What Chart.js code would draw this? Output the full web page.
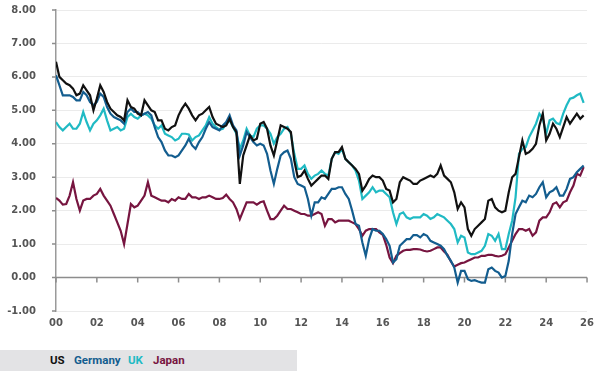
<!DOCTYPE html>
<html>
<head>
<meta charset="utf-8">
<script src="https://cdn.jsdelivr.net/npm/chart.js@4.4.1/dist/chart.umd.min.js"></script>
<style>
  body { margin: 0; background: #fff; }
  #wrap { position: relative; width: 600px; height: 375px; }
  #legend { position: absolute; left: 0; top: 350px; width: 297px; height: 21px; background: #e3e3e5;
            font: bold 11.5px Roboto, sans-serif; line-height: 21px; }
  #legend span { position: absolute; top: 0; }
</style>
</head>
<body>
<div id="wrap">
  <canvas id="chart" width="600" height="375"></canvas>
  <div id="legend"></div>
</div>
<script>
// 30y yields, one value every 2 months from Jan 2000
const startYear = 2000
const perYear = 6

const seriesNames = ['US', 'Germany', 'UK', 'Japan']
const seriesColors = ['#111111', '#135d8f', '#20bac4', '#771540']

const us = [
  6.45, 6.0, 5.9, 5.8, 5.75, 5.65,
  5.45, 5.5, 5.75, 5.6, 5.45, 5.0,
  5.35, 5.75, 5.55, 5.25, 5.05, 4.95,
  4.85, 4.8, 4.7, 5.3, 5.1, 5.05,
  4.9, 4.85, 5.3, 5.15, 5.0, 4.95,
  4.7, 4.7, 4.45, 4.4, 4.5, 4.55,
  4.85, 5.05, 5.2, 5.05, 4.85, 4.7,
  4.85, 4.9, 5.0, 5.1, 4.8, 4.6,
  4.55, 4.5, 4.55, 4.75, 4.5, 4.35,
  2.8, 3.65, 3.95, 4.25, 4.1, 4.15,
  4.6, 4.65, 4.45, 3.95, 3.65, 4.1,
  4.55, 4.5, 4.45, 4.35, 3.5, 3.0,
  3.05, 3.2, 2.95, 2.75, 2.85, 2.95,
  3.05, 3.05, 2.95, 3.55, 3.75, 3.75,
  3.9, 3.55, 3.45, 3.35, 3.25, 3.1,
  2.6, 2.75, 2.95, 3.05, 3.0, 3.0,
  2.9, 2.65, 2.6, 2.25, 2.35, 2.85,
  3.0, 2.95, 2.9, 2.8, 2.8, 2.9,
  2.95, 3.0, 3.05, 3.0, 3.1, 3.35,
  3.05, 2.95, 2.85, 2.55, 2.05, 2.25,
  2.1, 1.45, 1.25, 1.45, 1.55, 1.65,
  1.75, 2.3, 2.35, 2.1, 2.0, 1.95,
  2.0, 2.55, 3.0, 3.1, 3.6, 4.1,
  3.7, 3.75, 3.85, 4.0, 4.55, 4.9,
  4.1, 4.3, 4.6, 4.45, 4.2, 4.5,
  4.8, 4.6, 4.75, 4.9, 4.75, 4.85
]

const germany = [
  6.05, 5.75, 5.45, 5.45, 5.45, 5.4,
  5.3, 5.3, 5.55, 5.45, 5.25, 5.15,
  5.25, 5.5, 5.4, 5.1, 4.9, 4.8,
  4.75, 4.7, 4.6, 4.95, 5.05, 4.95,
  4.95, 4.85, 4.9, 4.95, 4.85, 4.5,
  4.2, 4.05, 3.8, 3.65, 3.65, 3.6,
  3.65, 3.8, 3.95, 4.15, 3.95, 3.85,
  4.05, 4.2, 4.45, 4.65, 4.5, 4.45,
  4.4, 4.55, 4.65, 4.85, 4.55, 4.4,
  3.65, 3.95, 4.35, 4.2, 4.05, 3.95,
  4.0, 3.95, 3.7, 3.2, 2.8, 3.25,
  3.65, 3.75, 3.8, 3.55, 3.0, 2.8,
  2.75, 2.7, 2.35, 1.85, 2.25, 2.25,
  2.4, 2.35, 2.5, 2.65, 2.65, 2.7,
  2.7, 2.5, 2.35, 2.0, 1.6, 1.55,
  1.05, 0.65, 1.15, 1.45, 1.4, 1.4,
  1.3, 1.15, 0.95, 0.45, 0.55, 0.95,
  1.05, 1.15, 1.15, 1.27, 1.27, 1.2,
  1.3, 1.25, 1.1, 1.05, 1.0, 0.95,
  0.85, 0.65, 0.5, 0.3, -0.15, 0.2,
  0.2, -0.05, -0.1, -0.08, -0.12, -0.15,
  -0.15, 0.25, 0.3, 0.2, 0.15, 0.0,
  0.05, 0.5, 1.3, 1.9, 2.1, 2.3,
  2.25, 2.45, 2.4, 2.5, 2.7, 2.85,
  2.4, 2.55, 2.6, 2.7, 2.45, 2.45,
  2.65, 2.95, 3.0, 3.15, 3.25, 3.35
]

const uk = [
  4.65, 4.5, 4.4, 4.5, 4.6, 4.45,
  4.45, 4.6, 4.95, 4.65, 4.4, 4.6,
  4.7, 4.85, 5.05, 4.7, 4.4, 4.45,
  4.5, 4.4, 4.45, 4.8, 4.9, 4.8,
  4.75, 4.85, 4.9, 4.85, 4.75, 4.55,
  4.45, 4.55, 4.3, 4.25, 4.2, 4.1,
  4.15, 4.3, 4.3, 4.28, 4.1, 4.2,
  4.25, 4.4, 4.55, 4.8, 4.6, 4.5,
  4.42, 4.45, 4.6, 4.7, 4.5, 4.3,
  3.85, 4.1, 4.45, 4.25, 4.2, 4.45,
  4.55, 4.55, 4.45, 4.3, 4.0, 4.2,
  4.3, 4.45, 4.5, 4.3, 3.7, 3.25,
  3.25, 3.35, 3.1, 2.95, 3.05, 3.1,
  3.2, 3.1, 3.05, 3.55, 3.75, 3.7,
  3.85, 3.55, 3.45, 3.35, 3.2, 2.9,
  2.35, 2.45, 2.55, 2.7, 2.55, 2.6,
  2.6, 2.5, 2.4, 1.95, 1.6, 1.9,
  1.95, 1.8, 1.75, 1.8, 1.8, 1.8,
  1.9, 1.85, 1.75, 1.8, 1.9, 1.85,
  1.8, 1.7, 1.6, 1.45, 1.05, 1.25,
  1.2, 0.75, 0.7, 0.7, 0.75, 0.8,
  0.95, 1.3, 1.25, 1.1, 1.3, 0.85,
  0.85, 1.3, 1.7, 2.4, 3.7, 3.85,
  3.9, 4.2, 4.4, 4.6, 4.9, 4.75,
  4.3, 4.7, 4.75, 4.62, 4.58, 4.9,
  5.15, 5.35, 5.38, 5.45, 5.5, 5.22
]

const japan = [
  2.38, 2.3, 2.18, 2.2, 2.45, 2.85,
  2.35, 2.0, 2.3, 2.35, 2.35, 2.45,
  2.5, 2.65, 2.45, 2.3, 2.15, 1.9,
  1.65, 1.4, 1.0, 1.6, 2.2, 2.1,
  2.15, 2.3, 2.45, 2.85, 2.45, 2.4,
  2.35, 2.3, 2.3, 2.25, 2.35, 2.3,
  2.4, 2.35, 2.35, 2.5, 2.4, 2.4,
  2.35, 2.4, 2.4, 2.45, 2.4, 2.35,
  2.35, 2.38, 2.48, 2.35, 2.25, 2.05,
  1.75, 2.0, 2.25, 2.25, 2.25, 2.18,
  2.25, 2.28, 2.0, 1.75, 1.75, 1.85,
  2.0, 2.15, 2.05, 2.05, 2.0, 1.95,
  1.9, 1.9, 1.85, 1.85, 1.9, 1.95,
  1.9, 1.55, 1.75, 1.75, 1.65, 1.7,
  1.7, 1.7, 1.7, 1.65, 1.6, 1.45,
  1.25, 1.4, 1.45, 1.45, 1.45, 1.35,
  1.28, 0.98, 0.6, 0.43, 0.65, 0.73,
  0.8, 0.83, 0.83, 0.85, 0.85, 0.84,
  0.8, 0.78, 0.8, 0.85, 0.9, 0.9,
  0.78, 0.68, 0.48, 0.33, 0.38, 0.43,
  0.45, 0.5, 0.55, 0.6, 0.6, 0.65,
  0.65, 0.68, 0.68, 0.65, 0.63, 0.65,
  0.7, 0.9, 1.1, 1.3, 1.45, 1.45,
  1.4, 1.45, 1.25, 1.35, 1.7, 1.8,
  1.8, 1.95, 2.2, 2.25, 2.1, 2.25,
  2.3, 2.55, 2.75, 3.1, 3.05, 3.3
]

const yTicks = [-1, 0, 1, 2, 3, 4, 5, 6, 7, 8]
const xTickYears = [2000, 2002, 2004, 2006, 2008, 2010, 2012, 2014, 2016, 2018, 2020, 2022, 2024, 2026]

const toPoints = (values) => values.map((v, i) => ({ x: startYear + i / perYear, y: v }))

const allSeries = [us, germany, uk, japan]

// zero line with the small year ticks hanging from it, plus short y ticks
const axisMarks = {
    id: 'axisMarks',
    beforeDatasetsDraw(chart) {
        const { ctx, chartArea, scales } = chart
        const y0 = scales.y.getPixelForValue(0)
        ctx.save()
        ctx.strokeStyle = '#8d8d8d'
        ctx.lineWidth = 1.5
        ctx.beginPath()
        ctx.moveTo(chartArea.left, y0)
        ctx.lineTo(chartArea.right, y0)
        xTickYears.forEach((yr) => {
            const px = scales.x.getPixelForValue(yr)
            ctx.moveTo(px, y0)
            ctx.lineTo(px, y0 + 5)
        })
        yTicks.forEach((v) => {
            const py = scales.y.getPixelForValue(v)
            ctx.moveTo(chartArea.left - 4, py)
            ctx.lineTo(chartArea.left, py)
        })
        ctx.stroke()
        ctx.restore()
    }
}

const dataConfig = {
    datasets: allSeries.map((values, i) => ({
        label: seriesNames[i],
        data: toPoints(values),
        borderColor: seriesColors[i],
        backgroundColor: seriesColors[i],
        borderWidth: 2.2,
        pointRadius: 0,
        tension: 0
    }))
}

const tickFont = { family: 'DejaVu Sans', size: 10, weight: 'bold' }

const config = {
    type: 'line',
    data: dataConfig,
    options: {
        responsive: false,
        animation: false,
        layout: { padding: { top: 10, right: 7, bottom: 44, left: 0 } },
        plugins: {
            legend: { display: false },
            tooltip: { enabled: false }
        },
        scales: {
            x: {
                type: 'linear',
                min: 2000,
                max: 2026,
                grid: { display: false, drawTicks: false, tickLength: 0 },
                border: { display: false },
                afterBuildTicks: (scale) => { scale.ticks = xTickYears.map(v => ({ value: v })) },
                afterFit: (scale) => { scale.height = 20 },
                ticks: {
                    autoSkip: false,
                    maxRotation: 0,
                    padding: 6,
                    color: '#555',
                    font: tickFont,
                    callback: (v) => String(v % 100).padStart(2, '0')
                }
            },
            y: {
                min: -1,
                max: 8,
                afterBuildTicks: (scale) => { scale.ticks = yTicks.map(v => ({ value: v })) },
                afterFit: (scale) => { scale.width = 56 },
                grid: {
                    color: (c) => c.tick && c.tick.value === 0 ? 'rgba(0,0,0,0)' : '#ebebeb',
                    tickColor: 'rgba(0,0,0,0)',
                    tickLength: 20,
                    lineWidth: 1
                },
                border: { display: true, color: '#9a9a9a', width: 1.5 },
                ticks: {
                    padding: 0,
                    color: '#555',
                    font: tickFont,
                    callback: (v) => v.toFixed(2)
                }
            }
        }
    },
    plugins: [axisMarks]
}

const newChart = new Chart(document.querySelector('#chart'), config)

// legend strip under the chart
const legendBox = document.querySelector('#legend')
const legendLeft = [50, 74, 128, 153]
seriesNames.forEach((name, i) => {
    const s = document.createElement('span')
    s.textContent = name
    s.style.left = legendLeft[i] + 'px'
    s.style.color = seriesColors[i]
    legendBox.appendChild(s)
})
</script>
</body>
</html>
